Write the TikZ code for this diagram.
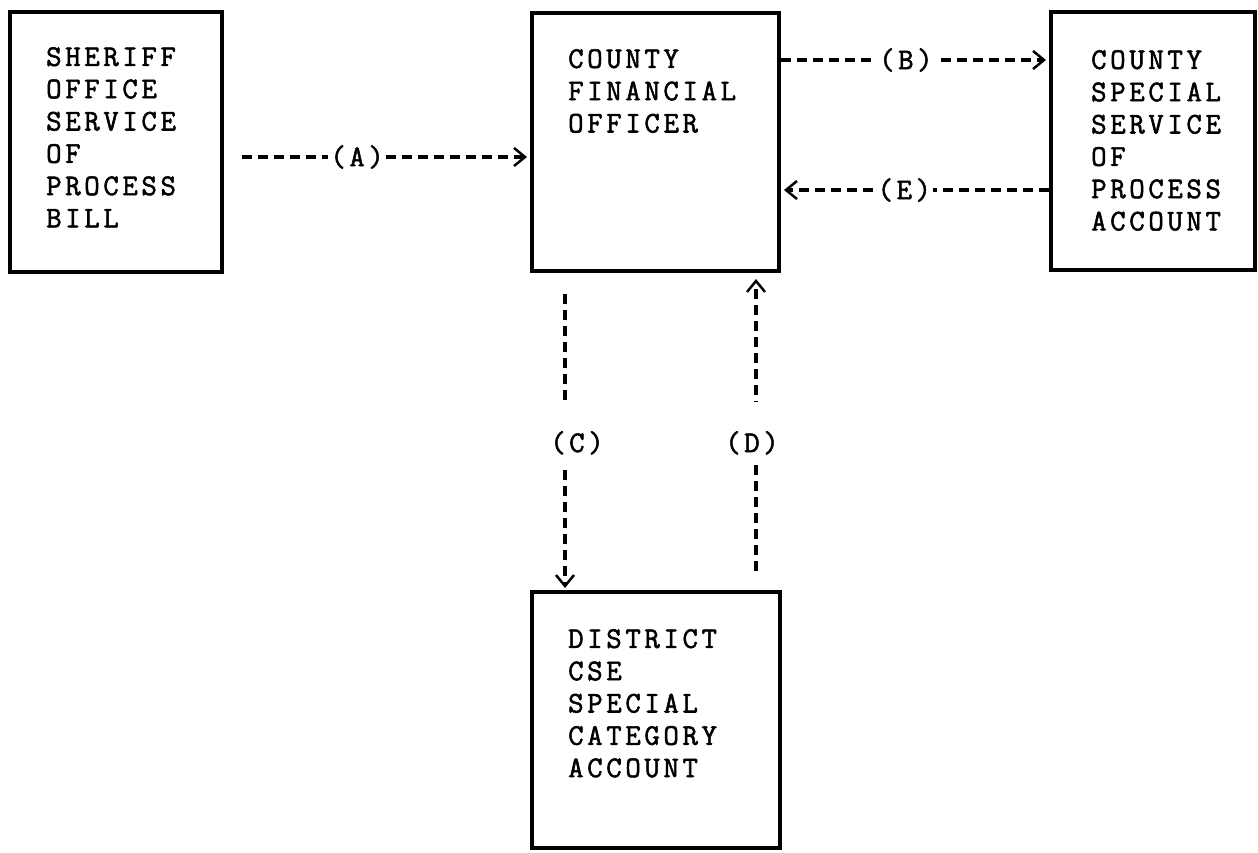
\documentclass[tikz,border=0pt]{standalone}
\usepackage{fontspec}
\setmonofont[LetterSpace=12,FakeBold=1.8]{Latin Modern Mono}
\usetikzlibrary{arrows.meta}

\newcommand{\typefont}{\ttfamily\fontsize{30}{32.3}\selectfont}

\tikzset{
  box/.style={draw, line width=4pt, inner sep=0pt},
  boxtext/.style={anchor=north west, inner sep=0pt, align=left, font=\typefont},
  flow/.style={line width=3.5pt, dash pattern={on 10pt off 6pt},
    -{Straight Barb[length=11pt,width=18pt,line width=2.5pt]}},
  hlab/.style={fill=white, inner xsep=2pt, inner ysep=1pt, font=\typefont},
  vlab/.style={fill=white, anchor=base, inner xsep=2pt, inner ysep=0pt,
    text height=50pt, text depth=13pt, font=\typefont},
}

\begin{document}
\begin{tikzpicture}[x=1pt,y=1pt,yscale=-1,xscale=1]
\useasboundingbox (0,0) rectangle (1258,852);

%Shape: Rectangle [sheriff]
\node[box, minimum width=212pt, minimum height=260pt] (sheriff) at (116,142) {};
%Shape: Rectangle [cfo]
\node[box, minimum width=247pt, minimum height=258pt] (cfo) at (655.5,142) {};
%Shape: Rectangle [account]
\node[box, minimum width=204pt, minimum height=258pt] (account) at (1153,141) {};
%Shape: Rectangle [district]
\node[box, minimum width=248pt, minimum height=256pt] (district) at (656,720) {};

% Text Node
\node[boxtext] (sheriffText) at ([shift={(38,37)}]sheriff.north west)
  {SHERIFF\\OFFICE\\SERVICE\\OF\\PROCESS\\BILL};
% Text Node
\node[boxtext] (cfoText) at ([shift={(38,38)}]cfo.north west)
  {COUNTY\\FINANCIAL\\OFFICER};
% Text Node
\node[boxtext] (accountText) at ([shift={(42,40)}]account.north west)
  {COUNTY\\SPECIAL\\SERVICE\\OF\\PROCESS\\ACCOUNT};
% Text Node
\node[boxtext] (districtText) at ([shift={(38,39)}]district.north west)
  {DISTRICT\\CSE\\SPECIAL\\CATEGORY\\ACCOUNT};

%Lines [A], [B], [E]
\draw[flow, shorten <=18pt, shorten >=3pt] ([yshift=15pt]sheriff.east) -- ([yshift=15pt]cfo.west)
  node[hlab, pos=0.435] (labA) {(A)};
\draw[flow, shorten >=3pt] ([yshift=-82pt]cfo.east) -- ([yshift=-81pt]account.west)
  node[hlab, pos=0.466] (labB) {(B)};
\draw[flow, shorten >=3pt] ([yshift=49pt]account.west) -- ([yshift=48pt]cfo.east)
  node[hlab, pos=0.54] (labE) {(E)};

%Lines [C], [D]
\draw[flow, shorten <=21pt, shorten >=2pt] ([xshift=-90.5pt]cfo.south) -- ([xshift=-91pt]district.north);
\draw[flow, shorten <=19pt, shorten >=6pt] ([xshift=100pt]district.north) -- ([xshift=100.5pt]cfo.south);

% Text Node
\node[vlab] (labC) at (577,452) {(C)};
% Text Node
\node[vlab] (labD) at (752,452) {(D)};

\end{tikzpicture}
\end{document}
